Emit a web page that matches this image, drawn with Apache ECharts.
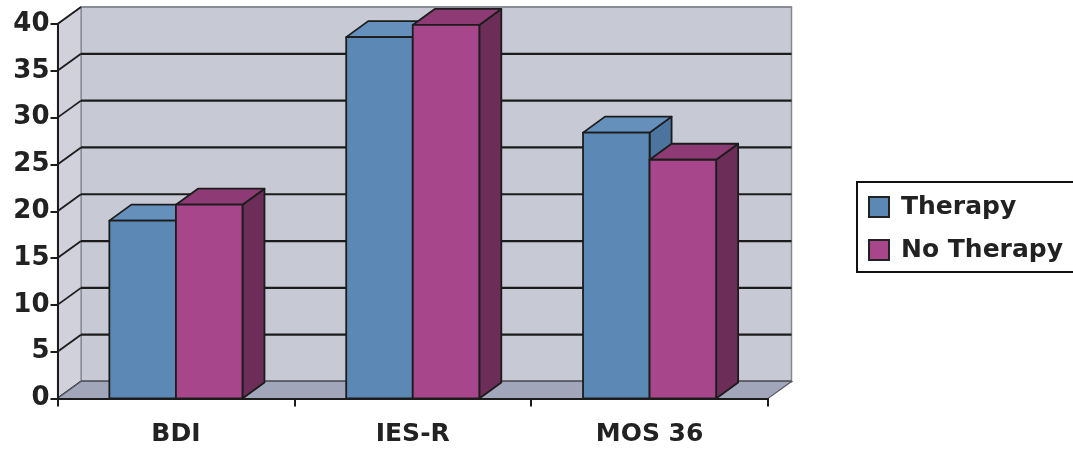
<!DOCTYPE html>
<html><head><meta charset="utf-8">
<script src="https://cdn.jsdelivr.net/npm/echarts@6/dist/echarts.min.js"></script>
<style>html,body{margin:0;padding:0;background:#fff}#c{width:1073px;height:450px}</style>
</head><body><div id="c"></div>
<script>
const categories = ['BDI', 'IES-R', 'MOS 36'];
const seriesNames = ['Therapy', 'No Therapy'];
const therapy = [19.0, 38.6, 28.4];
const noTherapy = [20.7, 39.9, 25.5];
const yTicks = [0, 5, 10, 15, 20, 25, 30, 35, 40];

const DX = 23.5, DY = -17;   // wall depth offset
const BDX = 22, BDY = -16;   // bar depth offset
const BAR_FRAC = 0.281;
const FONT = 'DejaVu Sans';
const LINE = '#1c1c1c';

const colors = [
  { front: '#5b88b4', top: '#6690bc', side: '#4b749e' },
  { front: '#a8468b', top: '#8d3a75', side: '#6c2d58' }
];

function wallsRender(params, api) {
  const cs = params.coordSys;
  const x0 = cs.x, y0 = cs.y, y1 = cs.y + cs.height;
  return { type: 'group', children: [
    { type: 'rect', shape: { x: x0 + DX, y: y0 + DY, width: cs.width, height: cs.height },
      style: { fill: '#c7c9d4', stroke: '#85878f', lineWidth: 1.5 } },
    { type: 'polygon', shape: { points: [[x0, y0], [x0 + DX, y0 + DY], [x0 + DX, y1 + DY], [x0, y1]] },
      style: { fill: '#d0d1da', stroke: '#85878f', lineWidth: 1.2 } }
  ]};
}

function gridRender(params, api) {
  const cs = params.coordSys;
  const v = api.value(0);
  const y = api.coord([0, v])[1];
  const x0 = cs.x, x1 = cs.x + cs.width;
  const edge = (v === yTicks[yTicks.length - 1]);
  const st = edge ? { stroke: '#85878f', lineWidth: 1.5 } : { stroke: LINE, lineWidth: 2.2 };
  return { type: 'group', children: [
    { type: 'line', shape: { x1: x0 + DX, y1: y + DY, x2: x1 + DX, y2: y + DY }, style: st },
    { type: 'line', shape: { x1: x0, y1: y, x2: x0 + DX, y2: y + DY }, style: { stroke: LINE, lineWidth: 1.8 } }
  ]};
}

function floorRender(params, api) {
  const cs = params.coordSys;
  const x0 = cs.x, x1 = cs.x + cs.width, y1 = cs.y + cs.height;
  return { type: 'polygon',
    shape: { points: [[x0, y1], [x1, y1], [x1 + DX, y1 + DY], [x0 + DX, y1 + DY]] },
    style: { fill: '#a2a6ba', stroke: '#5a5c66', lineWidth: 1.2 } };
}

function barRender(sIdx) {
  const c = colors[sIdx];
  return function (params, api) {
    const ci = api.value(0), v = api.value(1);
    const top = api.coord([ci, v]);
    const base = api.coord([ci, 0]);
    const bw = api.size([1, 0])[0] * BAR_FRAC;
    const left = base[0] + (sIdx === 0 ? -bw : 0);
    const right = left + bw;
    const yT = top[1], yB = base[1];
    const st = { stroke: LINE, lineWidth: 1.8, lineJoin: 'round' };
    return { type: 'group', children: [
      { type: 'polygon', shape: { points: [[right, yT], [right + BDX, yT + BDY], [right + BDX, yB + BDY], [right, yB]] },
        style: Object.assign({ fill: c.side }, st) },
      { type: 'polygon', shape: { points: [[left, yT], [left + BDX, yT + BDY], [right + BDX, yT + BDY], [right, yT]] },
        style: Object.assign({ fill: c.top }, st) },
      { type: 'rect', shape: { x: left, y: yT, width: bw, height: yB - yT },
        style: Object.assign({ fill: c.front }, st) }
    ]};
  };
}

const option = {
  animation: false,
  backgroundColor: '#ffffff',
  grid: { left: 57.5, right: 305, top: 24, bottom: 51.5 },
  xAxis: {
    type: 'category', data: categories, z: 10,
    axisLine: { lineStyle: { color: LINE, width: 2 } },
    axisTick: { show: true, length: 8, alignWithLabel: false, lineStyle: { color: LINE, width: 2 } },
    axisLabel: { margin: 23, interval: 0, fontFamily: FONT, fontWeight: 'bold', fontSize: 25, color: '#222' },
    splitLine: { show: false }
  },
  yAxis: {
    type: 'value', min: 0, max: 40, interval: 5, z: 10,
    axisLine: { show: true, lineStyle: { color: LINE, width: 2 } },
    axisTick: { show: true, length: 7, lineStyle: { color: LINE, width: 2 } },
    axisLabel: { margin: 8, fontFamily: FONT, fontWeight: 'bold', fontSize: 26, color: '#222' },
    splitLine: { show: false }
  },
  legend: {
    data: seriesNames, orient: 'vertical', left: 857, top: 182,
    icon: 'rect', itemWidth: 20, itemHeight: 20, itemGap: 13,
    padding: [10, 40, 7, 11],
    borderColor: '#111', borderWidth: 2, backgroundColor: '#fff',
    itemStyle: { borderColor: '#222', borderWidth: 2 },
    textStyle: { fontFamily: FONT, fontWeight: 'bold', fontSize: 25, color: '#222', lineHeight: 30, padding: [0, 0, 0, 7] }
  },
  series: [
    { type: 'custom', name: '_walls', z: 1, silent: true, renderItem: wallsRender, data: [[0]], encode: { x: 0 } },
    { type: 'custom', name: '_grid', z: 2, silent: true, renderItem: gridRender, data: yTicks.map(v => [v]), encode: { y: 0 } },
    { type: 'custom', name: '_floor', z: 3, silent: true, renderItem: floorRender, data: [[0]], encode: { x: 0 } },
    { type: 'custom', name: seriesNames[0], z: 4, renderItem: barRender(0), itemStyle: { color: colors[0].front },
      data: therapy.map((v, i) => [i, v]), encode: { x: 0, y: 1 } },
    { type: 'custom', name: seriesNames[1], z: 5, renderItem: barRender(1), itemStyle: { color: colors[1].front },
      data: noTherapy.map((v, i) => [i, v]), encode: { x: 0, y: 1 } }
  ]
};

const chart = echarts.init(document.getElementById('c'), null, { renderer: 'canvas' });
chart.setOption(option);
</script>
</body></html>
